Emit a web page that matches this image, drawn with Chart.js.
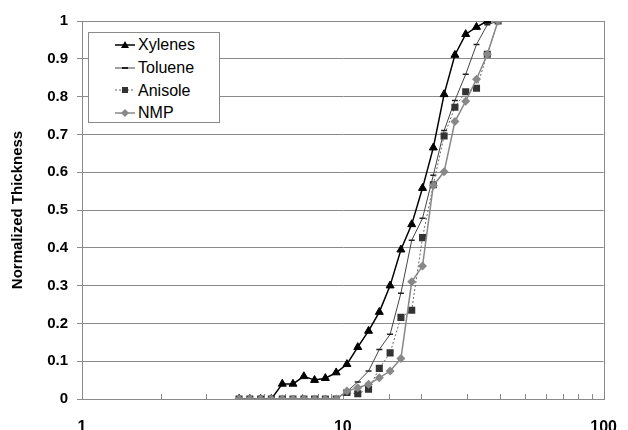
<!DOCTYPE html>
<html>
<head>
<meta charset="utf-8">
<script src="https://cdn.jsdelivr.net/npm/chart.js@4"></script>
<style>
  html, body { margin: 0; padding: 0; background: #fff; }
  #wrap { position: relative; width: 628px; height: 430px; }
  #legend {
    position: absolute; left: 88px; top: 32px; width: 132px; height: 91px;
    box-sizing: border-box; border: 1px solid #8a8a8a; background: #fff;
    font-family: "Liberation Sans", Arial, sans-serif; font-size: 16px; color: #000;
  }
  .lg-row { position: absolute; left: 26px; height: 20px; line-height: 20px; white-space: nowrap; }
  .lg-row svg { vertical-align: middle; margin-right: 3px; margin-top: -2px; }
</style>
</head>
<body>
<div id="wrap">
  <canvas id="chart" width="628" height="430"></canvas>
  <div id="legend">
    <div class="lg-row" style="top:2px">
      <svg width="20" height="10"><line x1="0" y1="5" x2="20" y2="5" stroke="#000" stroke-width="1.5"/><polygon points="10,1 14,8 6,8" fill="#000"/></svg>Xylenes</div>
    <div class="lg-row" style="top:24.8px">
      <svg width="20" height="10"><line x1="0" y1="5" x2="20" y2="5" stroke="#444" stroke-width="1"/><line x1="7" y1="5" x2="13" y2="5" stroke="#222" stroke-width="2"/></svg>Toluene</div>
    <div class="lg-row" style="top:47.6px">
      <svg width="20" height="10"><line x1="0" y1="5" x2="20" y2="5" stroke="#666" stroke-width="1" stroke-dasharray="2,2"/><rect x="7" y="2" width="6" height="6" fill="#333"/></svg>Anisole</div>
    <div class="lg-row" style="top:70.4px">
      <svg width="20" height="10"><line x1="0" y1="5" x2="20" y2="5" stroke="#888" stroke-width="1.5"/><polygon points="10,1 14,5 10,9 6,5" fill="#888"/></svg>NMP</div>
  </div>
</div>

<script>
'use strict';

/* ============================================================
   DATA
   ============================================================ */
const xValues = [4, 4.4, 4.84, 5.32, 5.86, 6.44, 7.09, 7.79, 8.57, 9.43,
                 10.37, 11.41, 12.55, 13.8, 15.18, 16.7, 18.37, 20.21, 22.23, 24.45,
                 26.9, 29.59, 32.55, 35.8, 39.38];

const xylenes = [0, 0, 0, 0, 0.04, 0.04, 0.06, 0.05, 0.055, 0.07,
                 0.092, 0.137, 0.18, 0.23, 0.30, 0.395, 0.462, 0.558, 0.665, 0.806,
                 0.91, 0.965, 0.984, 1.0];

const toluene = [0, 0, 0, 0, 0, 0, 0, 0, 0, 0,
                 0.02, 0.045, 0.074, 0.131, 0.171, 0.28, 0.42, 0.478, 0.592, 0.71,
                 0.79, 0.859, 0.938, 0.99, 1.0];

const anisole = [0, 0, 0, 0, 0, 0, 0, 0, 0, 0,
                 0.017, 0.014, 0.026, 0.081, 0.122, 0.216, 0.235, 0.427, 0.567, 0.696,
                 0.772, 0.813, 0.822, 0.912, 1.0];

const nmp     = [0, 0, 0, 0, 0, 0, 0, 0, 0, 0,
                 0.021, 0.03, 0.039, 0.056, 0.074, 0.107, 0.31, 0.352, 0.565, 0.601,
                 0.734, 0.788, 0.846, 0.912, 1.0];

const xTickLabels = [1, 10, 100];
const yAxisTitle  = 'Normalized Thickness';

/* pair a series with the shared x values */
function toPoints(series) {
  return series.map(function (v, i) { return { x: xValues[i], y: v }; });
}

/* ============================================================
   PLUGIN – plot frame + small log ticks inside the plot
   ============================================================ */
const frameAndTicks = {
  id: 'frameAndTicks',
  beforeDatasetsDraw: function (chart) {
    const ctx = chart.ctx;
    const a   = chart.chartArea;
    const xs  = chart.scales.x;
    ctx.save();
    ctx.strokeStyle = '#8a8a8a';
    ctx.lineWidth = 1;
    ctx.strokeRect(Math.round(a.left) + 0.5, Math.round(a.top) + 0.5,
                   Math.round(a.right - a.left), Math.round(a.bottom - a.top));
    ctx.beginPath();
    xs.ticks.forEach(function (t) {
      const px = Math.round(xs.getPixelForValue(t.value)) + 0.5;
      ctx.moveTo(px, a.bottom);
      ctx.lineTo(px, a.bottom - 5);
    });
    ctx.stroke();
    ctx.restore();
  }
};

/* ============================================================
   CHART
   ============================================================ */
function initChart() {
  const canvas = document.getElementById('chart');

  new Chart(canvas, {
    type: 'line',
    data: {
      datasets: [
        {
          label: 'Xylenes', data: toPoints(xylenes), order: 4,
          borderColor: '#000', borderWidth: 1.5,
          pointStyle: 'triangle', pointRadius: 4.6,
          pointBackgroundColor: '#000', pointBorderColor: '#000', pointBorderWidth: 1
        },
        {
          label: 'Toluene', data: toPoints(toluene), order: 3,
          borderColor: '#444', borderWidth: 1,
          pointStyle: 'line', pointRadius: 3,
          pointBorderColor: '#222', pointBorderWidth: 1.5
        },
        {
          label: 'Anisole', data: toPoints(anisole), order: 2,
          borderColor: '#666', borderWidth: 1, borderDash: [2, 2],
          pointStyle: 'rect', pointRadius: 5,
          pointBackgroundColor: '#333', pointBorderColor: '#333', pointBorderWidth: 0
        },
        {
          label: 'NMP', data: toPoints(nmp), order: 1,
          borderColor: '#888', borderWidth: 1.5,
          pointStyle: 'rectRot', pointRadius: 4.5,
          pointBackgroundColor: '#888', pointBorderColor: '#888', pointBorderWidth: 0
        }
      ]
    },
    options: {
      responsive: false,
      animation: false,
      layout: { padding: { left: 0, right: 16, top: 21, bottom: 0 } },
      plugins: { legend: { display: false }, tooltip: { enabled: false } },
      elements: { line: { tension: 0 } },
      scales: {
        x: {
          type: 'logarithmic',
          min: 1, max: 100,
          afterFit: function (s) { s.height = 31; },
          grid: { display: false },
          border: { display: false },
          ticks: {
            autoSkip: false, maxRotation: 0, padding: 11,
            color: '#000',
            font: { family: '"Liberation Sans", Arial, sans-serif', size: 16, weight: 'bold' },
            callback: function (v) { return xTickLabels.indexOf(v) >= 0 ? String(v) : ''; }
          }
        },
        y: {
          min: 0, max: 1,
          afterFit: function (s) { s.width = 82; },
          grid: { color: '#8a8a8a', lineWidth: 1, tickLength: 5 },
          border: { display: true, color: '#8a8a8a' },
          ticks: {
            stepSize: 0.1, padding: 9,
            color: '#000',
            font: { family: '"Liberation Sans", Arial, sans-serif', size: 15, weight: 'bold' },
            callback: function (v) { return String(Number(v.toFixed(1))); }
          },
          title: {
            display: true, text: yAxisTitle, color: '#000',
            padding: { top: 9, bottom: 0 },
            font: { family: '"Liberation Sans", Arial, sans-serif', size: 15, weight: 'bold' }
          }
        }
      }
    },
    plugins: [frameAndTicks]
  });
}

document.addEventListener('DOMContentLoaded', initChart);
</script>
</body>
</html>
